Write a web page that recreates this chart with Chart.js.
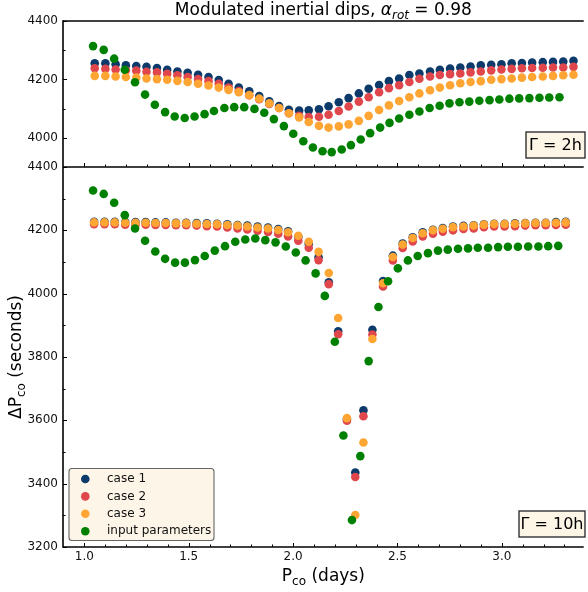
<!DOCTYPE html>
<html>
<head>
<meta charset="utf-8">
<script src="https://cdn.jsdelivr.net/npm/chart.js@4"></script>
<style>
  html, body { margin: 0; padding: 0; background: #fff; overflow: hidden; }
</style>
</head>
<body>
<canvas id="dips" width="588" height="592"></canvas>
<script>
// P_co (days) of every point, Gamma = 2h panel
const pTop = [1.050, 1.101, 1.150, 1.199, 1.249, 1.298, 1.348, 1.397, 1.446, 1.495, 1.545, 1.595, 1.644, 1.691, 1.740, 1.790,
  1.838, 1.886, 1.933, 1.980, 2.029, 2.075, 2.124, 2.170, 2.219, 2.266, 2.315, 2.362, 2.412, 2.459, 2.508, 2.557,
  2.605, 2.656, 2.703, 2.752, 2.801, 2.850, 2.899, 2.949, 2.998, 3.047, 3.096, 3.145, 3.196, 3.245, 3.294, 3.343];
const pTopInput = [1.042, 1.093, 1.143, 1.194, 1.243, 1.291, 1.338, 1.387, 1.433, 1.481, 1.528, 1.576, 1.621, 1.671, 1.718, 1.766,
  1.815, 1.862, 1.908, 1.956, 2.001, 2.049, 2.095, 2.141, 2.185, 2.233, 2.277, 2.324, 2.369, 2.417, 2.462, 2.508,
  2.557, 2.605, 2.654, 2.702, 2.749, 2.797, 2.844, 2.892, 2.941, 2.988, 3.036, 3.083, 3.132, 3.180, 3.227, 3.276];
// Gamma = 10h panel
const pBottom = [1.047, 1.097, 1.146, 1.196, 1.245, 1.294, 1.341, 1.390, 1.439, 1.488, 1.538, 1.587, 1.636, 1.685, 1.734, 1.781,
  1.830, 1.880, 1.929, 1.976, 2.025, 2.075, 2.122, 2.171, 2.216, 2.258, 2.298, 2.337, 2.380, 2.431, 2.478, 2.525,
  2.573, 2.621, 2.670, 2.717, 2.766, 2.816, 2.865, 2.914, 2.963, 3.013, 3.063, 3.112, 3.161, 3.210, 3.259, 3.306];
const pBottomInput = [1.042, 1.093, 1.143, 1.194, 1.243, 1.291, 1.340, 1.387, 1.435, 1.482, 1.530, 1.577, 1.625, 1.674, 1.723, 1.771,
  1.819, 1.867, 1.916, 1.965, 2.013, 2.060, 2.108, 2.152, 2.200, 2.241, 2.282, 2.322, 2.362, 2.409, 2.455, 2.502,
  2.550, 2.597, 2.646, 2.694, 2.741, 2.790, 2.838, 2.885, 2.934, 2.982, 3.029, 3.077, 3.126, 3.175, 3.222, 3.270];

// Delta P_co (seconds)
const case1Top = [4255, 4255, 4252, 4248, 4246, 4243, 4239, 4233, 4227, 4223, 4216, 4208, 4198, 4185, 4172, 4159,
  4143, 4125, 4109, 4096, 4093, 4094, 4098, 4108, 4122, 4136, 4152, 4168, 4181, 4194, 4203, 4215,
  4220, 4227, 4233, 4237, 4241, 4244, 4248, 4250, 4252, 4255, 4256, 4258, 4259, 4260, 4261, 4264];
const case2Top = [4238, 4236, 4234, 4231, 4230, 4226, 4224, 4219, 4214, 4208, 4201, 4194, 4185, 4172, 4160, 4146,
  4132, 4116, 4102, 4084, 4075, 4071, 4072, 4079, 4092, 4107, 4124, 4139, 4156, 4170, 4180, 4191,
  4202, 4210, 4215, 4218, 4220, 4224, 4227, 4231, 4234, 4236, 4238, 4239, 4240, 4241, 4241, 4243];
const case3Top = [4212, 4212, 4210, 4208, 4206, 4203, 4201, 4199, 4195, 4191, 4185, 4179, 4172, 4164, 4156, 4146,
  4134, 4118, 4102, 4084, 4070, 4054, 4041, 4035, 4039, 4046, 4058, 4075, 4095, 4111, 4126, 4139,
  4152, 4163, 4172, 4180, 4187, 4191, 4194, 4199, 4201, 4203, 4206, 4208, 4210, 4212, 4214, 4216];
const inputTop = [4314, 4301, 4271, 4233, 4190, 4148, 4113, 4088, 4073, 4068, 4073, 4081, 4092, 4102, 4105, 4105,
  4099, 4086, 4064, 4040, 4014, 3988, 3967, 3954, 3951, 3960, 3975, 3994, 4016, 4035, 4051, 4066,
  4079, 4090, 4102, 4110, 4118, 4122, 4124, 4127, 4129, 4131, 4134, 4135, 4136, 4137, 4138, 4139];

const case1Bottom = [4227, 4227, 4227, 4226, 4226, 4226, 4225, 4225, 4224, 4224, 4223, 4222, 4221, 4219, 4217, 4215,
  4212, 4209, 4204, 4197, 4180, 4158, 4115, 4036, 3881, 3604, 3435, 3632, 3886, 4040, 4120, 4158,
  4178, 4194, 4202, 4207, 4212, 4214, 4216, 4219, 4221, 4221, 4222, 4223, 4224, 4224, 4226, 4227];
const case2Bottom = [4219, 4219, 4219, 4218, 4218, 4218, 4217, 4217, 4216, 4216, 4215, 4213, 4212, 4209, 4206, 4203,
  4199, 4195, 4189, 4181, 4167, 4145, 4106, 4030, 3872, 3599, 3421, 3613, 3871, 4023, 4105, 4144,
  4165, 4181, 4189, 4196, 4200, 4204, 4206, 4210, 4212, 4212, 4213, 4215, 4216, 4216, 4217, 4218];
const case3Bottom = [4225, 4225, 4225, 4224, 4224, 4224, 4223, 4223, 4222, 4222, 4221, 4220, 4219, 4217, 4215, 4212,
  4209, 4206, 4201, 4194, 4183, 4164, 4132, 4065, 3923, 3607, 3301, 3530, 3857, 4033, 4116, 4155,
  4176, 4191, 4200, 4205, 4210, 4212, 4215, 4218, 4220, 4220, 4221, 4222, 4223, 4223, 4224, 4225];
const inputBottom = [4326, 4315, 4287, 4248, 4206, 4167, 4133, 4110, 4098, 4098, 4106, 4119, 4136, 4150, 4164, 4171,
  4174, 4169, 4162, 4149, 4130, 4105, 4064, 3993, 3848, 3552, 3285, 3487, 3787, 3958, 4039, 4080,
  4105, 4119, 4128, 4136, 4139, 4142, 4143, 4145, 4145, 4147, 4148, 4148, 4149, 4149, 4150, 4151];

const seriesNames = ['case 1', 'case 2', 'case 3', 'input parameters'];
const seriesColors = ['#0b3a6b', '#e0474c', '#ffa533', '#008000'];

// tick positions (every step gets a tick mark, labels only on the major ones)
const xTickValues = [1.0, 1.1, 1.2, 1.3, 1.4, 1.5, 1.6, 1.7, 1.8, 1.9, 2.0, 2.1, 2.2, 2.3, 2.4, 2.5, 2.6, 2.7, 2.8, 2.9, 3.0, 3.1, 3.2, 3.3];
const yTopTickValues = [3900, 4000, 4100, 4200, 4300, 4400];
const yBottomTickValues = [3200, 3300, 3400, 3500, 3600, 3700, 3800, 3900, 4000, 4100, 4200, 4300, 4400];

const FONT = '"DejaVu Sans", sans-serif';

const toPoints = (xs, ys) => xs.map((x, i) => ({x: x, y: ys[i]}));

function serie(i, xs, ys, axis) {
  return {
    label: seriesNames[i],
    data: toPoints(xs, ys),
    yAxisID: axis,
    backgroundColor: seriesColors[i],
    borderWidth: 0,
    pointRadius: 4.3,
    pointHoverRadius: 4.3,
    order: 3 - i   // input parameters drawn on top
  };
}

function richWidth(ctx, parts) {
  let w = 0;
  parts.forEach(p => { ctx.font = p.font; w += ctx.measureText(p.text).width; });
  return w;
}
function drawRich(ctx, parts, x, y) {
  let cx = x;
  parts.forEach(p => {
    ctx.font = p.font;
    ctx.fillText(p.text, cx, y + (p.dy || 0));
    cx += ctx.measureText(p.text).width;
  });
}

// inward ticks + frame, like the matplotlib axes
const frame = {
  id: 'frame',
  afterDatasetsDraw(chart) {
    const {ctx, chartArea: a, scales} = chart;
    const x = scales.x, yT = scales.yTop, yB = scales.yBottom;
    ctx.save();
    ctx.strokeStyle = '#000';
    const seg = (x1, y1, x2, y2) => { ctx.beginPath(); ctx.moveTo(x1, y1); ctx.lineTo(x2, y2); ctx.stroke(); };
    ctx.lineWidth = 1;
    x.ticks.forEach(t => {
      const px = Math.round(x.getPixelForValue(t.value)) + 0.5;
      const len = t.label ? 4 : 2.5;
      seg(px, yB.bottom, px, yB.bottom - len);
      seg(px, yT.bottom, px, yT.bottom - len);
    });
    [yT, yB].forEach(s => s.ticks.forEach(t => {
      const py = Math.round(s.getPixelForValue(t.value)) + 0.5;
      seg(a.left, py, a.left + (t.label ? 4 : 2.5), py);
    }));
    ctx.lineWidth = 1.6;
    seg(a.left, yT.top, a.right, yT.top);
    seg(a.left, yT.bottom, a.right, yT.bottom);
    seg(a.left, yB.bottom, a.right, yB.bottom);
    seg(a.left, yT.top - 0.8, a.left, yB.bottom + 0.8);
    ctx.restore();
  },
  afterDraw(chart) {
    const {ctx, chartArea: a, scales} = chart;
    const yT = scales.yTop, yB = scales.yBottom;
    const cx = (a.left + a.right) / 2;
    ctx.save();
    ctx.fillStyle = '#000';
    ctx.textAlign = 'left';
    ctx.textBaseline = 'alphabetic';

    // title
    const title = [
      {text: 'Modulated inertial dips, ', font: '17px ' + FONT},
      {text: 'α', font: 'italic 17px ' + FONT},
      {text: 'rot', font: 'italic 12px ' + FONT, dy: 3.5},
      {text: ' = 0.98', font: '17px ' + FONT}
    ];
    drawRich(ctx, title, cx - richWidth(ctx, title) / 2, 15);

    // x label
    const xl = [
      {text: 'P', font: '17px ' + FONT},
      {text: 'co', font: '12px ' + FONT, dy: 4},
      {text: ' (days)', font: '17px ' + FONT}
    ];
    drawRich(ctx, xl, cx - richWidth(ctx, xl) / 2, 581);

    // y label
    const yl = [
      {text: 'ΔP', font: '17px ' + FONT},
      {text: 'co', font: '12px ' + FONT, dy: 4},
      {text: ' (seconds)', font: '17px ' + FONT}
    ];
    ctx.save();
    ctx.translate(21, (yB.top + yB.bottom) / 2);
    ctx.rotate(-Math.PI / 2);
    drawRich(ctx, yl, -richWidth(ctx, yl) / 2, 0);
    ctx.restore();

    // Gamma boxes
    const gbox = (label, right, bottom, w, h) => {
      ctx.fillStyle = '#fdf5e6';
      ctx.strokeStyle = '#222';
      ctx.lineWidth = 1.3;
      ctx.fillRect(right - w, bottom - h, w, h);
      ctx.strokeRect(right - w, bottom - h, w, h);
      ctx.fillStyle = '#000';
      ctx.font = '16px ' + FONT;
      ctx.textAlign = 'center';
      ctx.fillText(label, right - w / 2, bottom - 8);
      ctx.textAlign = 'left';
    };
    gbox('Γ = 2h', 585, yT.bottom - 9, 59, 26);
    gbox('Γ = 10h', 585, yB.bottom - 10, 66, 26);

    // legend
    const lx = a.left + 6, lw = 145, lh = 72, ly = yB.bottom - 6.5 - lh;
    ctx.beginPath();
    ctx.roundRect(lx, ly, lw, lh, 3);
    ctx.fillStyle = 'rgba(253,245,230,0.9)';
    ctx.fill();
    ctx.strokeStyle = '#666';
    ctx.lineWidth = 1.1;
    ctx.stroke();
    ctx.font = '12px ' + FONT;
    ctx.textBaseline = 'middle';
    seriesNames.forEach((name, i) => {
      const yy = ly + 10.5 + i * 17.4;
      ctx.beginPath();
      ctx.arc(lx + 16.3, yy, 4.3, 0, Math.PI * 2);
      ctx.fillStyle = seriesColors[i];
      ctx.fill();
      ctx.fillStyle = '#111';
      ctx.fillText(name, lx + 38, yy);
    });
    ctx.restore();
  }
};

const tickFont = {family: FONT, size: 12};

new Chart(document.getElementById('dips').getContext('2d'), {
  type: 'scatter',
  data: {
    datasets: [
      serie(0, pTop, case1Top, 'yTop'),
      serie(1, pTop, case2Top, 'yTop'),
      serie(2, pTop, case3Top, 'yTop'),
      serie(3, pTopInput, inputTop, 'yTop'),
      serie(0, pBottom, case1Bottom, 'yBottom'),
      serie(1, pBottom, case2Bottom, 'yBottom'),
      serie(2, pBottom, case3Bottom, 'yBottom'),
      serie(3, pBottomInput, inputBottom, 'yBottom')
    ]
  },
  options: {
    responsive: false,
    animation: false,
    devicePixelRatio: 1,
    events: [],
    layout: {padding: {top: 21, left: 0, right: 0, bottom: 0}},
    plugins: {legend: {display: false}, tooltip: {enabled: false}},
    scales: {
      x: {
        type: 'linear',
        min: 0.898,
        max: 3.392,
        afterBuildTicks: s => { s.ticks = xTickValues.map(v => ({value: v})); },
        afterFit: s => { s.height = 45; },
        grid: {display: false, drawTicks: false},
        border: {display: false},
        ticks: {
          callback: v => Math.abs(v * 2 - Math.round(v * 2)) < 1e-6 ? v.toFixed(1) : '',
          autoSkip: false, maxRotation: 0, padding: 3, color: '#111', font: tickFont
        }
      },
      yTop: {
        type: 'linear',
        position: 'left',
        stack: 'panels',
        stackWeight: 146,
        weight: 1,
        min: 3900,
        max: 4400,
        afterBuildTicks: s => { s.ticks = yTopTickValues.map(v => ({value: v})); },
        afterFit: s => { s.width = 63; },
        grid: {display: false, drawTicks: false},
        border: {display: false},
        ticks: {callback: v => v % 200 === 0 ? String(v) : '', autoSkip: false, padding: 5, color: '#111', font: tickFont}
      },
      yBottom: {
        type: 'linear',
        position: 'left',
        stack: 'panels',
        stackWeight: 380,
        weight: 0,
        min: 3200,
        max: 4400,
        afterBuildTicks: s => { s.ticks = yBottomTickValues.map(v => ({value: v})); },
        afterFit: s => { s.width = 63; },
        grid: {display: false, drawTicks: false},
        border: {display: false},
        ticks: {callback: v => v % 200 === 0 ? String(v) : '', autoSkip: false, padding: 5, color: '#111', font: tickFont}
      }
    }
  },
  plugins: [frame]
});
</script>
</body>
</html>
